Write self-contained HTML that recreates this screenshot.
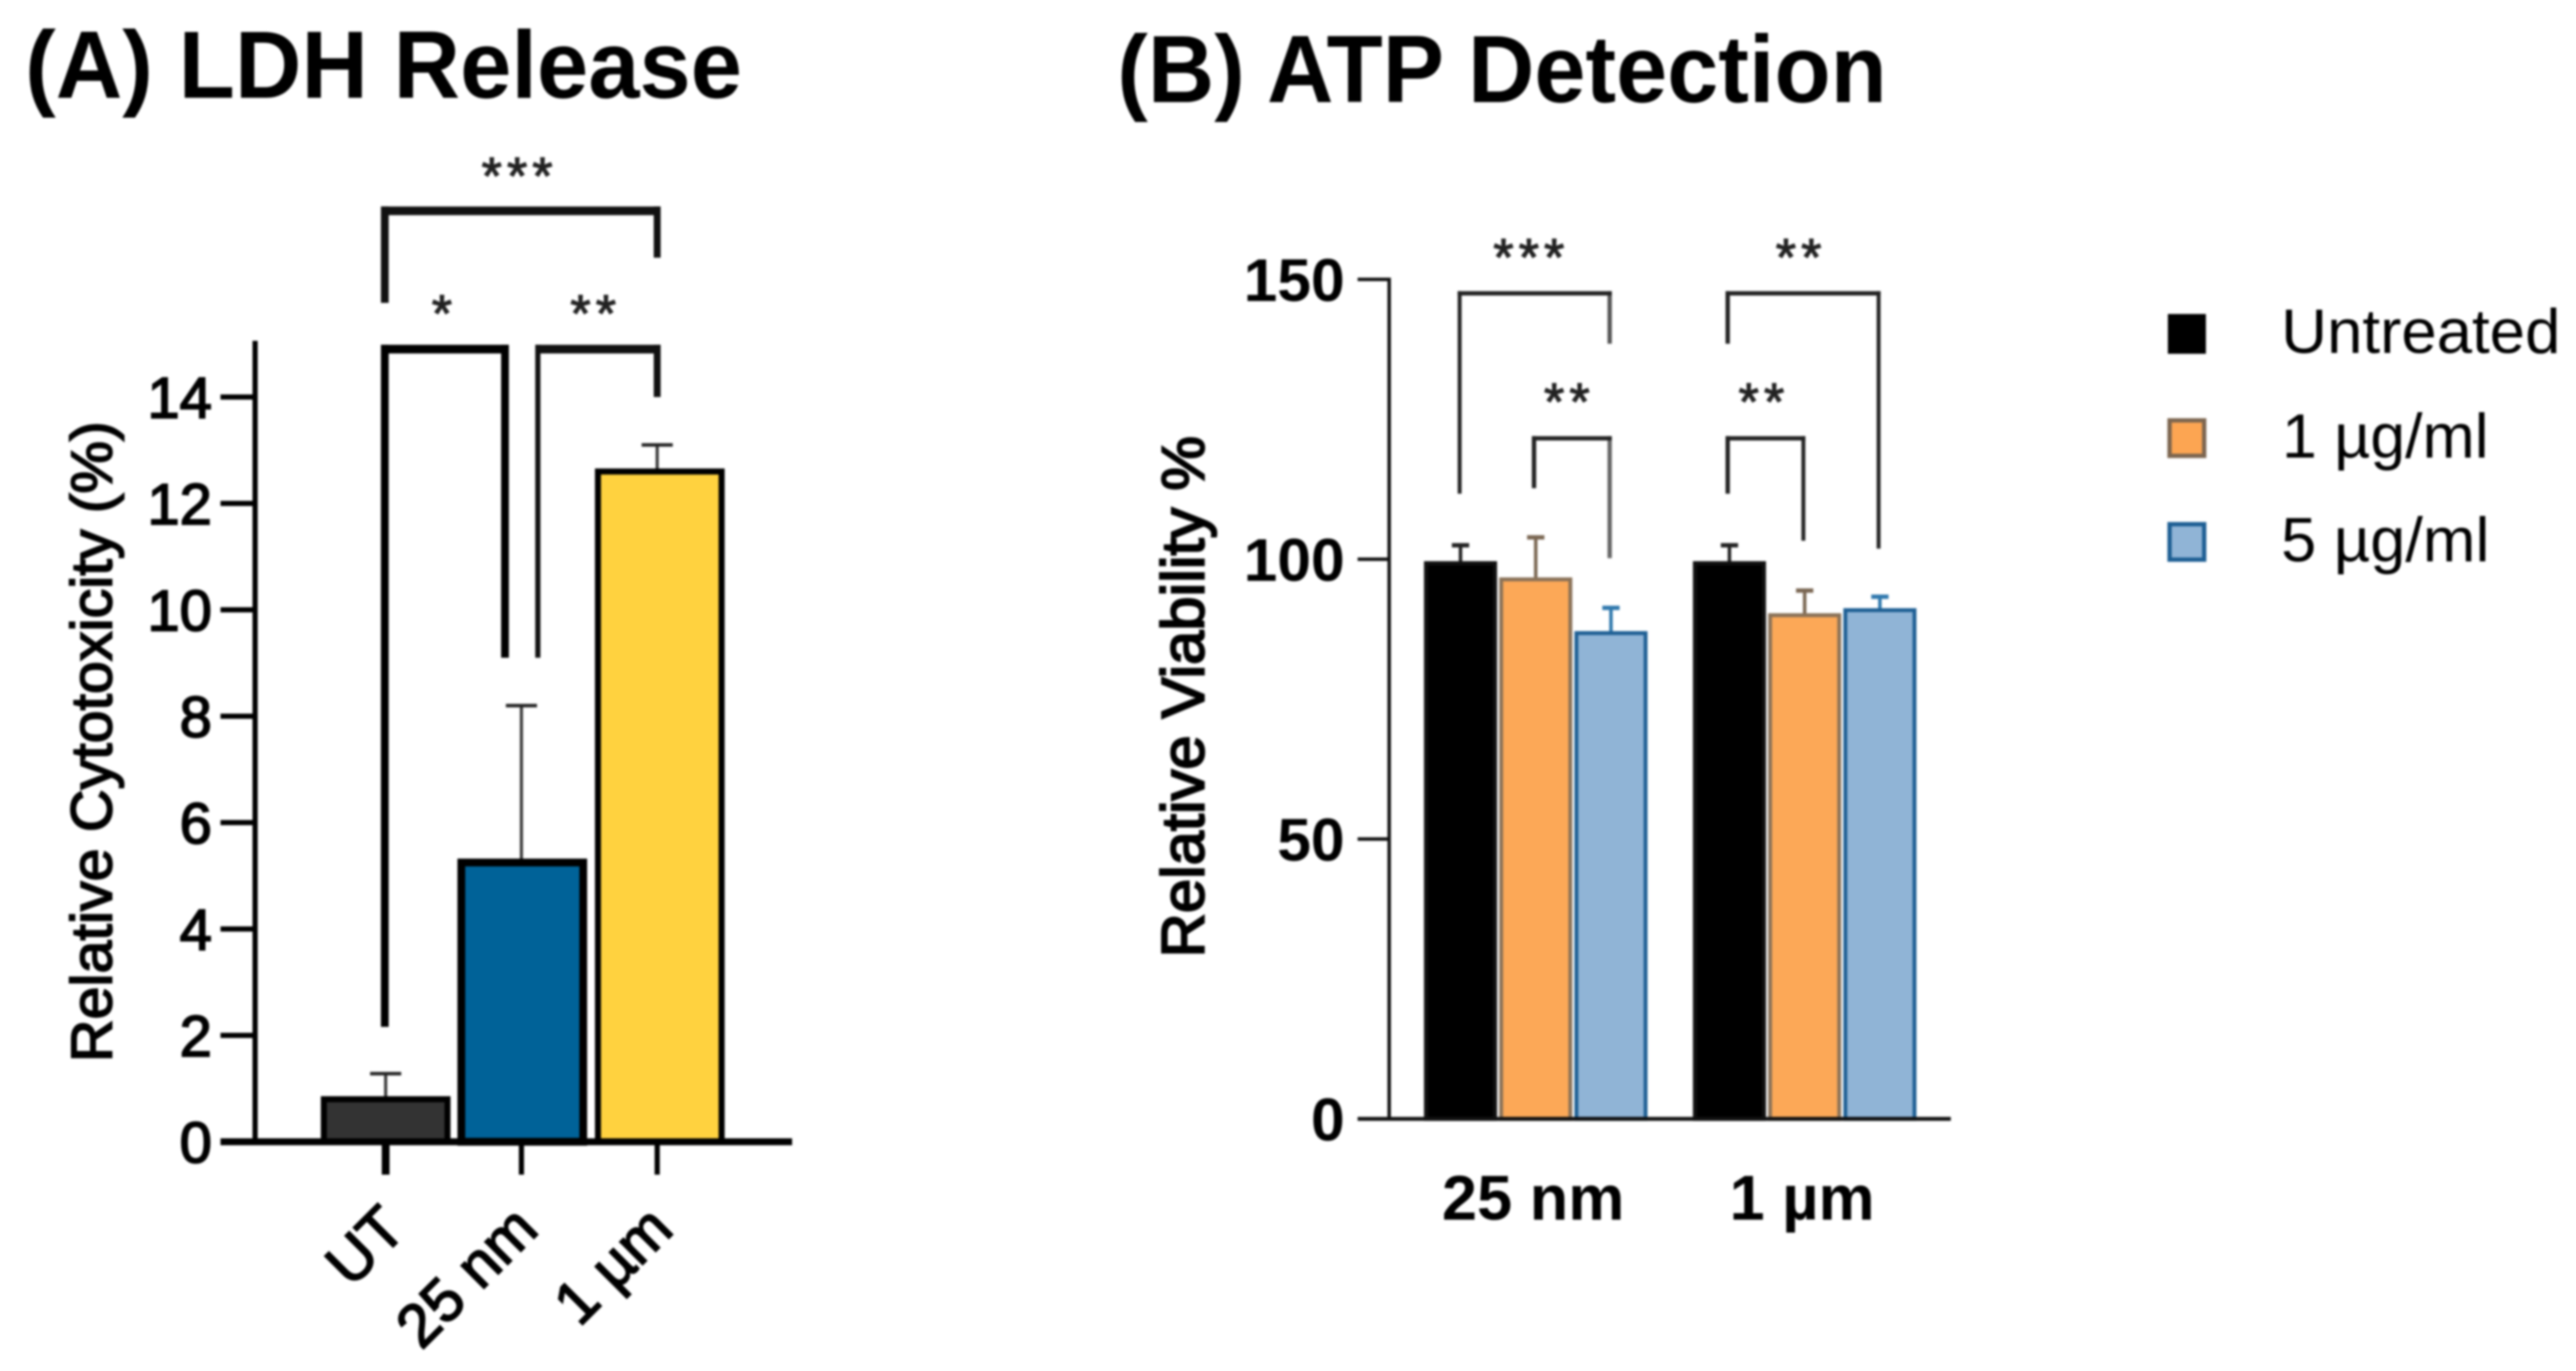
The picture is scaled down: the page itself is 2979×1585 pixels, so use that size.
<!DOCTYPE html>
<html lang="en">
<head>
<meta charset="utf-8">
<title>LDH Release and ATP Detection</title>
<style>
html,body{margin:0;padding:0;background:#fff;}
svg{display:block;filter:blur(1.2px);}
text{font-family:"Liberation Sans",Arial,sans-serif;fill:#000;}
</style>
</head>
<body>
<svg id="figure" xmlns="http://www.w3.org/2000/svg" width="2979" height="1585" viewBox="0 0 2979 1585">
  <rect x="0" y="0" width="2979" height="1585" fill="#ffffff"/>
  <text x="29" y="113" font-size="110" font-weight="700" textLength="829" lengthAdjust="spacingAndGlyphs">(A) LDH Release</text>
  <text x="1292" y="118" font-size="110" font-weight="700" textLength="890" lengthAdjust="spacingAndGlyphs">(B) ATP Detection</text>
  <text transform="translate(129 1228) rotate(-90)" x="0" y="0" font-size="67" stroke="#000" stroke-width="2" textLength="741" lengthAdjust="spacingAndGlyphs">Relative Cytotoxicity (%)</text>
  <text transform="translate(1392 1107) rotate(-90)" x="0" y="0" font-size="70" stroke="#000" stroke-width="2.4" textLength="603" lengthAdjust="spacingAndGlyphs">Relative Viability %</text>
  <g id="chart-a"></g>
  <g id="chart-b"></g>
  <g>
    <g>
      <rect x="2509" y="365" width="40" height="42" fill="#000" stroke="#000" stroke-width="4"/>
      <text x="2638" y="408" font-size="72" fill="#111" textLength="323" lengthAdjust="spacingAndGlyphs">Untreated</text>
    </g>
    <g>
      <rect x="2509" y="486" width="40" height="41" fill="#FCA552" stroke="#7d6650" stroke-width="5"/>
      <text x="2639" y="529" font-size="72" fill="#111" textLength="239" lengthAdjust="spacingAndGlyphs">1 µg/ml</text>
    </g>
    <g>
      <rect x="2509" y="606" width="40" height="41" fill="#90B4D6" stroke="#1e5f94" stroke-width="5"/>
      <text x="2638" y="649" font-size="72" fill="#111" textLength="241" lengthAdjust="spacingAndGlyphs">5 µg/ml</text>
    </g>
  </g>
</svg>
<script>
// ---- Panel A data ----
const ldhCategories = ['UT', '25 nm', '1 µm'];
const ldhValues = [0.8, 5.25, 12.6];
const ldhErrorTops = [1.28, 8.2, 13.1];
const ldhTicks = [0, 2, 4, 6, 8, 10, 12, 14];
const ldhColors = ['#333333', '#006298', '#FFD23F'];

// ---- Panel B data ----
const atpCategories = ['25 nm', '1 µm'];
const atpUntreated = [99.3, 99.3];
const atpLow = [96.4, 90];
const atpHigh = [86.8, 90.9];
const atpUntreatedErr = [102.5, 102.5];
const atpLowErr = [103.9, 94.4];
const atpHighErr = [91.3, 93.3];
const atpTicks = [0, 50, 100, 150];

const NS = 'http://www.w3.org/2000/svg';
const chartA = document.getElementById('chart-a');
const chartB = document.getElementById('chart-b');

function make(tag, attrs, parent, content) {
  const node = document.createElementNS(NS, tag);
  for (const key in attrs) node.setAttribute(key, attrs[key]);
  if (content !== undefined) node.textContent = content;
  parent.appendChild(node);
  return node;
}

// axis functions
const yA = v => 1320 - 61.5 * v;
const xA = i => 446 + 157 * i;
const yB = v => 1293.5 - 6.47 * v;
const xBGroup = g => 1775 + 311 * g;
const xB = (g, s) => 1689 + 311 * g + 87 * s;

function stars(parent, label, cx, cy) {
  const t = make('text', {x: cx + 1, y: cy + 28, 'font-size': 60, 'text-anchor': 'middle', 'letter-spacing': 6, stroke: '#222', 'stroke-width': 1.4, style: 'fill:#222'}, parent, label);
  
  
}

function bracket(parent, x1, x2, yTop, yLeft, yRight, widthTop, widthLeft, widthRight, color, colorRight) {
  const g = make('g', {}, parent);
  
  
  make('line', {x1: x1, x2: x1, y1: yTop - widthTop / 2, y2: yLeft, stroke: color, 'stroke-width': widthLeft}, g);
  make('line', {x1: x2, x2: x2, y1: yTop - widthTop / 2, y2: yRight, stroke: colorRight, 'stroke-width': widthRight}, g);
  make('line', {x1: x1 - widthLeft / 2, x2: x2 + widthRight / 2, y1: yTop, y2: yTop, stroke: color, 'stroke-width': widthTop}, g);
}

// ---- Panel A ----
ldhValues.forEach((value, i) => {
  const err = make('g', {}, chartA);
  
  
  make('line', {x1: xA(i), x2: xA(i), y1: yA(value), y2: yA(ldhErrorTops[i]), stroke: '#333', 'stroke-width': 3.5}, err);
  make('line', {x1: xA(i) - 18, x2: xA(i) + 18, y1: yA(ldhErrorTops[i]), y2: yA(ldhErrorTops[i]), stroke: '#222', 'stroke-width': 4}, err);
  const bw = i === 1 ? 9 : 7;
  const shift = i === 2 ? 3 : (i === 1 ? 1 : 0);
  const bar = make('rect', {x: xA(i) + shift - 75 + bw / 2, y: yA(value), width: 150 - bw, height: 1320 - yA(value), fill: ldhColors[i], stroke: '#000', 'stroke-width': bw}, chartA);
  
  
});

const axisAY = make('line', {x1: 295, x2: 295, y1: 394, y2: 1320, stroke: '#000', 'stroke-width': 6}, chartA);


const axisAX = make('line', {x1: 255, x2: 916, y1: 1320, y2: 1320, stroke: '#000', 'stroke-width': 8}, chartA);



ldhTicks.forEach(t => {
  const tick = make('line', {x1: 255, x2: 295, y1: yA(t), y2: yA(t), stroke: '#000', 'stroke-width': 6}, chartA);
  
  
  const lab = make('text', {x: 245, y: yA(t) + 24, 'font-size': 67, 'text-anchor': 'end', stroke: '#000', 'stroke-width': 2}, chartA, String(t));
  
  
});

ldhCategories.forEach((c, i) => {
  const tick = make('line', {x1: xA(i), x2: xA(i), y1: 1320, y2: 1358, stroke: '#000', 'stroke-width': i === 0 ? 9 : 6}, chartA);
  
  
  const lx = xA(i) + (i === 0 ? 26 : (i === 1 ? 22 : 21));
  const ly = i === 0 ? 1424 : 1424;
  const lab = make('text', {transform: 'translate(' + lx + ' ' + ly + ') rotate(-45)', x: 0, y: 0, 'font-size': 70, 'text-anchor': 'end', stroke: '#000', 'stroke-width': 2}, chartA, c);
  
  
});

bracket(chartA, xA(0) - 1, xA(2), yA(17.5), yA(15.77), yA(16.62), 10, 9, 8, '#111', '#111');
bracket(chartA, xA(0) - 1, xA(1) - 19, yA(14.9), yA(2.16), yA(9.1), 10, 9, 9, '#000', '#000');
bracket(chartA, xA(1) + 19, xA(2), yA(14.9), yA(9.1), yA(14), 10, 6, 8, '#111', '#111');
stars(chartA, '***', 600, 196);
stars(chartA, '*', 513, 355);
stars(chartA, '**', 688, 355);

// ---- Panel B ----
const atpSeries = [atpUntreated, atpLow, atpHigh];
const atpErrors = [atpUntreatedErr, atpLowErr, atpHighErr];
const atpFills = ['#000000', '#FCA857', '#90B4D6'];
const atpStrokes = ['#111111', '#8a7258', '#1e5f94'];
const atpErrColors = ['#222222', '#7a6652', '#2f78ad'];

atpSeries.forEach((series, s) => {
  series.forEach((value, g) => {
    const cx = xB(g, s);
    const err = make('g', {}, chartB);
    
    
    make('line', {x1: cx, x2: cx, y1: yB(value), y2: yB(atpErrors[s][g]), stroke: atpErrColors[s], 'stroke-width': 4}, err);
    make('line', {x1: cx - 10, x2: cx + 10, y1: yB(atpErrors[s][g]), y2: yB(atpErrors[s][g]), stroke: atpErrColors[s], 'stroke-width': 5}, err);
    const bar = make('rect', {x: cx - 40, y: yB(value), width: 80, height: 1293.5 - yB(value), fill: atpFills[s], stroke: atpStrokes[s], 'stroke-width': 4.5}, chartB);
    
    
  });
});

const axisBY = make('line', {x1: 1606.5, x2: 1606.5, y1: yB(150) - 2, y2: 1293.5, stroke: '#111', 'stroke-width': 4}, chartB);


const axisBX = make('line', {x1: 1570, x2: 2256, y1: 1293.5, y2: 1293.5, stroke: '#111', 'stroke-width': 4.5}, chartB);



atpTicks.forEach(t => {
  const tick = make('line', {x1: 1570, x2: 1607, y1: yB(t), y2: yB(t), stroke: '#111', 'stroke-width': 4}, chartB);
  
  
  const lab = make('text', {x: 1555, y: yB(t) + 25, 'font-size': 70, 'font-weight': 700, 'text-anchor': 'end'}, chartB, String(t));
  
  
});

atpCategories.forEach((c, g) => {
  const lab = make('text', {x: xBGroup(g) - 2, y: 1410, 'font-size': 73, 'font-weight': 700, 'text-anchor': 'middle'}, chartB, c);
  
  
});

bracket(chartB, xB(0, 0) - 1, xB(0, 2) - 1.5, yB(147.5), yB(111.7), yB(138.5), 5, 4.5, 5, '#222', '#555');
bracket(chartB, xB(0, 1) - 2, xB(0, 2) - 1.5, yB(121.6), yB(112.7), yB(100.2), 5, 5, 5, '#222', '#666');
bracket(chartB, xB(1, 0) - 2, xB(1, 2) - 1.5, yB(147.5), yB(138.5), yB(101.9), 5, 5, 4.5, '#222', '#222');
bracket(chartB, xB(1, 0) - 2, xB(1, 1) - 1.5, yB(121.6), yB(111.7), yB(103.3), 5, 5, 4.5, '#222', '#222');
stars(chartB, '***', 1770, 290);
stars(chartB, '**', 1814, 457);
stars(chartB, '**', 2082, 290);
stars(chartB, '**', 2039, 457);
</script>
</body>
</html>
